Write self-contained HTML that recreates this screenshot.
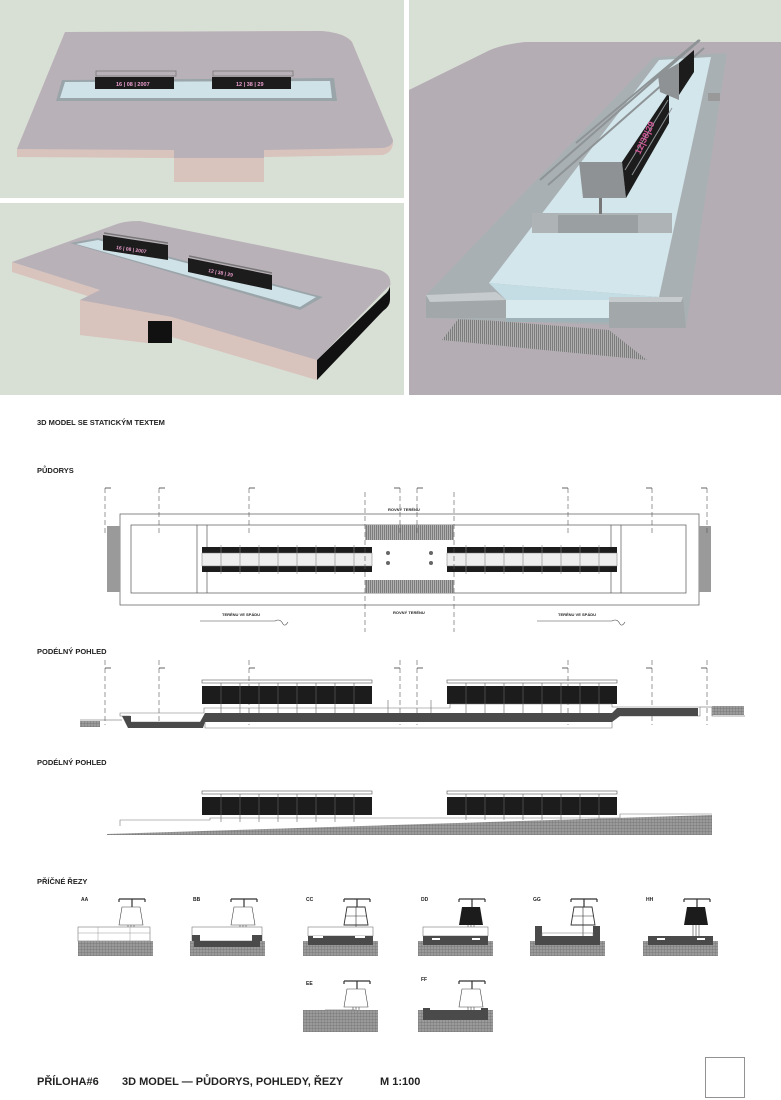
<!DOCTYPE html>
<html><head><meta charset="utf-8"><style>
html,body{margin:0;padding:0;background:#fff;}
svg{display:block;}
text{font-family:"Liberation Sans",sans-serif;font-weight:bold;fill:#222;}
</style></head><body>
<svg width="781" height="1100" viewBox="0 0 781 1100" xmlns="http://www.w3.org/2000/svg">
<defs>
<pattern id="hatch" width="3" height="3" patternUnits="userSpaceOnUse"><rect width="3" height="3" fill="#9a9a9a"/><path d="M0 0H3M0 0V3" stroke="#6f6f6f" stroke-width="0.7"/></pattern>
<pattern id="grate" width="2" height="4" patternUnits="userSpaceOnUse"><rect width="2" height="4" fill="#b0b0b0"/><rect width="1" height="4" fill="#7c7c7c"/></pattern>
<g id="sign">
 <path d="M41 4H67M41 4V7M67 4V7M54 4V12" stroke="#333" stroke-width="1.2" fill="none"/>
</g>
</defs>

<!-- top left panel -->
<rect x="0" y="0" width="404" height="198" fill="#d8e0d6"/>
<path d="M17 149 L65 32 L322 31 Q345 33 352 42 L393 142 Q393 152 383 155 L264 157 L264 182 L174 182 L174 158 L17 157 Z" fill="#d9c3bd"/>
<path d="M17 149 L65 32 L322 31 Q345 33 352 42 L393 140 Q393 146 383 148 L264 150 L174 150 L17 149 Z" fill="#b9b1b8"/>
<rect x="174" y="150" width="90" height="8" fill="#b9b1b8"/>
<polygon points="62,80 334,78 337,101 56,101" fill="#9aa5aa"/>
<polygon points="65,82 330,81 332,98 60,98" fill="#cfe2e8"/>
<rect x="95" y="77" width="79" height="12" fill="#1c1c1c"/>
<rect x="212" y="77" width="79" height="12" fill="#1c1c1c"/>
<rect x="96" y="71" width="80" height="5" fill="none" stroke="#777" stroke-width="0.8"/>
<rect x="213" y="71" width="80" height="5" fill="none" stroke="#777" stroke-width="0.8"/>
<text x="116" y="86" font-size="5.5" style="fill:#ec9fd0">16 | 08 | 2007</text>
<text x="236" y="86" font-size="5.5" style="fill:#ec9fd0">12 | 38 | 29</text>

<!-- bottom left panel -->
<rect x="0" y="203" width="404" height="192" fill="#d8e0d6"/>
<!-- pink/dark side faces -->
<polygon points="12,262 100,290 100,299 80,300 80,335 148,343 148,322 172,317 172,337 317,380 317,360" fill="#d9c3bd"/>
<polygon points="12,262 100,290 100,300 12,272" fill="#d9c3bd"/>
<polygon points="80,300 172,317 172,337 148,343 80,335" fill="#d9c3bd"/>
<polygon points="172,317 317,360 317,380 172,337" fill="#d9c3bd"/>
<rect x="148" y="321" width="24" height="22" fill="#111"/>
<path d="M317 360 L383 296 Q391 290 390 283 L390 300 Q390 306 383 311 L317 380 Z" fill="#111"/>
<!-- top face -->
<path d="M12 262 L117 224 Q125 221 140 221 L380 270 Q392 275 390 285 L317 360 L172 317 L80 300 L100 290 Z" fill="#b9b1b8"/>
<polygon points="70,243 98,238 323,297 300,310" fill="#9aa5aa"/>
<polygon points="76,244 98,240 316,297 300,307" fill="#cfe2e8"/>
<polygon points="103,235 168,245 168,260 103,250" fill="#1c1c1c"/>
<polygon points="188,258 272,275 272,290 188,272" fill="#1c1c1c"/>
<path d="M104 233 L168 243 M189 256 L272 273" stroke="#777" stroke-width="1.5"/>
<text x="116" y="249" font-size="5" transform="rotate(8 116 249)" style="fill:#ec9fd0">16 | 08 | 2007</text>
<text x="208" y="272" font-size="5" transform="rotate(11 208 272)" style="fill:#ec9fd0">12 | 38 | 29</text>

<!-- right panel -->
<rect x="409" y="0" width="372" height="395" fill="#b5adb4"/>
<path d="M409 0 H781 V42 L525 42 Q505 44 490 50 L409 90 Z" fill="#d8e0d6"/>
<polygon points="459,318 609,330 647,360 442,340" fill="url(#grate)"/>
<!-- frame -->
<polygon points="654,57 727,53 686,328 426,318 426,295" fill="#a9b0b3"/>
<polygon points="659,60 711,57 659,297 489,283" fill="#d2e6ec"/>
<polygon points="489,283 659,297 609,300 506,300" fill="#c4dde4"/>
<rect x="506" y="300" width="103" height="22" fill="#d8eaee"/>
<rect x="506" y="318" width="103" height="4" fill="#9fb2b8"/>
<polygon points="426,295 496,292 506,300 506,318 426,318" fill="#a2a8aa"/>
<polygon points="426,295 496,292 506,300 430,302" fill="#c6cbcd"/>
<polygon points="609,297 683,297 686,328 609,328" fill="#a2a8aa"/>
<polygon points="609,297 683,297 681,302 609,302" fill="#c6cbcd"/>
<rect x="708" y="93" width="12" height="8" fill="#999"/>
<!-- cross wall -->
<polygon points="532,213 672,213 672,233 532,233" fill="#aeb4b6"/>
<rect x="558" y="215" width="80" height="18" fill="#9aa0a2"/>
<!-- structures -->
<path d="M540 180 L700 40 M548 185 L704 48 M576 143 L699 40" stroke="#8e9396" stroke-width="2"/>
<polygon points="579,162 622,162 626,198 583,198" fill="#8e9294"/>
<rect x="599" y="198" width="3" height="16" fill="#777"/>
<polygon points="622,162 669,92 669,123 626,198" fill="#1c1c1c"/>
<polygon points="658,75 679,63 679,100 660,92" fill="#8e9294"/>
<polygon points="679,63 694,50 694,72 679,95" fill="#1c1c1c"/>
<path d="M625 170 L668 100 M632 175 L672 108" stroke="#8e9396" stroke-width="1"/>
<text x="640" y="155" font-size="9" transform="rotate(-65 640 155)" style="fill:#d35a9b">12|38|29</text>

<!-- headings -->
<text x="37" y="425" font-size="7.5">3D MODEL SE STATICKÝM TEXTEM</text>
<text x="37" y="473" font-size="7.5">PŮDORYS</text>
<text x="37" y="654" font-size="7.5">PODÉLNÝ POHLED</text>
<text x="37" y="765" font-size="7.5">PODÉLNÝ POHLED</text>
<text x="37" y="884" font-size="7.5">PŘÍČNÉ ŘEZY</text>

<!-- plan -->
<g stroke="#555" stroke-width="0.7" fill="none">
 <rect x="120" y="514" width="579" height="91"/>
 <rect x="131" y="525" width="555" height="68"/>
 <line x1="197" y1="525" x2="197" y2="593"/><line x1="207" y1="525" x2="207" y2="593"/>
 <line x1="611" y1="525" x2="611" y2="593"/><line x1="621" y1="525" x2="621" y2="593"/>
</g>
<rect x="107" y="526" width="13" height="66" fill="#9a9a9a"/>
<rect x="699" y="526" width="12" height="66" fill="#9a9a9a"/>
<rect x="365" y="525" width="89" height="15" fill="url(#grate)"/>
<rect x="365" y="580" width="89" height="13" fill="url(#grate)"/>
<g>
 <rect x="202" y="547" width="170" height="6" fill="#1c1c1c"/>
 <rect x="202" y="566" width="170" height="6" fill="#1c1c1c"/>
 <rect x="202" y="553" width="170" height="13" fill="#eee" stroke="#777" stroke-width="0.5"/>
 <rect x="447" y="547" width="170" height="6" fill="#1c1c1c"/>
 <rect x="447" y="566" width="170" height="6" fill="#1c1c1c"/>
 <rect x="447" y="553" width="170" height="13" fill="#eee" stroke="#777" stroke-width="0.5"/>
 <path d="M221 545V574M240 545V574M259 545V574M278 545V574M297 545V574M316 545V574M335 545V574M354 545V574M466 545V574M485 545V574M504 545V574M523 545V574M542 545V574M561 545V574M580 545V574M599 545V574" stroke="#888" stroke-width="0.6"/>
 <circle cx="388" cy="553" r="2" fill="#666"/><circle cx="388" cy="563" r="2" fill="#666"/>
 <circle cx="431" cy="553" r="2" fill="#666"/><circle cx="431" cy="563" r="2" fill="#666"/>
</g>
<g stroke="#555" stroke-width="0.6" stroke-dasharray="5,3" fill="none">
 <path d="M105 488V535M159 488V535M249 488V535M400 488V535M417 488V535M568 488V535M652 488V535M707 488V535"/>
 <path d="M365 492V632M454 492V632"/>
 <path d="M105 660V725M159 660V725M249 660V725M400 660V725M417 660V725M568 660V725M652 660V725M707 660V725"/>
</g>
<g stroke="#333" stroke-width="0.7" fill="none">
 <path d="M105 488H111M159 488H165M249 488H255M400 488H394M417 488H423M568 488H562M652 488H646M707 488H701"/>
 <path d="M105 668H111M159 668H165M249 668H255M400 668H394M417 668H423M568 668H562M652 668H646M707 668H701"/>
</g>
<g font-size="3.5">
 <text x="388" y="511" font-size="4">ROVNÝ TERÉNU</text>
 <text x="393" y="614" font-size="4">ROVNÝ TERÉNU</text>
 <text x="222" y="616" font-size="4">TERÉNU VE SPÁDU</text>
 <text x="558" y="616" font-size="4">TERÉNU VE SPÁDU</text>
</g>
<path d="M200 621H275 Q280 618 283 624 Q285 627 288 622" stroke="#444" stroke-width="0.6" fill="none"/>
<path d="M537 621H612 Q617 618 620 624 Q622 627 625 622" stroke="#444" stroke-width="0.6" fill="none"/>

<!-- elevation 1 -->
<rect x="202" y="680" width="170" height="3" fill="none" stroke="#555" stroke-width="0.6"/>
<rect x="447" y="680" width="170" height="3" fill="none" stroke="#555" stroke-width="0.6"/>
<rect x="202" y="686" width="170" height="18" fill="#1c1c1c"/>
<rect x="447" y="686" width="170" height="18" fill="#1c1c1c"/>
<path d="M221 683V713M240 683V713M259 683V713M278 683V713M297 683V713M316 683V713M335 683V713M354 683V713M466 683V713M485 683V713M504 683V713M523 683V713M542 683V713M561 683V713M580 683V713M599 683V713M388 700V713M431 700V713" stroke="#666" stroke-width="0.6"/>
<path d="M120 713 H204 V708 H450 V704 H612 V707 H700 V716 H612 V728 H205 V722 H130 V716 H120 Z" fill="none" stroke="#777" stroke-width="0.6"/>
<path d="M122 716 H131 V722 H200 L205 713 H612 L617 708 H698 V716 H620 L612 722 L205 722 L203 728 H128 Z" fill="#4a4a4a"/>
<path d="M80 720H122M700 707H712V716H745" stroke="#555" stroke-width="0.6" fill="none"/>
<rect x="80" y="721" width="20" height="6" fill="url(#hatch)"/>
<rect x="712" y="706" width="32" height="9" fill="url(#hatch)"/>

<!-- elevation 2 -->
<rect x="202" y="791" width="170" height="3" fill="none" stroke="#555" stroke-width="0.6"/>
<rect x="447" y="791" width="170" height="3" fill="none" stroke="#555" stroke-width="0.6"/>
<rect x="202" y="797" width="170" height="18" fill="#1c1c1c"/>
<rect x="447" y="797" width="170" height="18" fill="#1c1c1c"/>
<path d="M221 794V822M240 794V822M259 794V822M278 794V822M297 794V822M316 794V822M335 794V822M354 794V822M466 794V820M485 794V820M504 794V820M523 794V820M542 794V820M561 794V820M580 794V820M599 794V820" stroke="#666" stroke-width="0.6"/>
<path d="M120 826 V820 H210 V818 H620 V814 H712" fill="none" stroke="#777" stroke-width="0.6"/>
<polygon points="107,834 712,815 712,835 107,835" fill="url(#hatch)"/>

<!-- cross sections -->
<g font-size="5">
 <text x="81" y="901">AA</text><text x="193" y="901">BB</text><text x="306" y="901">CC</text>
 <text x="421" y="901">DD</text><text x="533" y="901">GG</text><text x="646" y="901">HH</text>
 <text x="306" y="985">EE</text><text x="421" y="981">FF</text>
</g>
<g transform="translate(78,895)">
 <use href="#sign"/><polygon points="44,12 62,12 65,30 41,30" fill="#fff" stroke="#444" stroke-width="0.6"/>
 <path d="M50 30V42M53 30V42M56 30V42" stroke="#444" stroke-width="0.6"/>
 <rect x="0" y="32" width="72" height="14" fill="#fff" stroke="#777" stroke-width="0.6"/>
 <path d="M20 32V46M52 32V46M0 38H72" stroke="#999" stroke-width="0.5"/>
 <rect x="0" y="46" width="75" height="15" fill="url(#hatch)"/>
</g>
<g transform="translate(190,895)">
 <use href="#sign"/><polygon points="44,12 62,12 65,30 41,30" fill="#fff" stroke="#444" stroke-width="0.6"/>
 <path d="M50 30V42M53 30V42M56 30V42" stroke="#444" stroke-width="0.6"/>
 <rect x="2" y="32" width="70" height="14" fill="#fff" stroke="#777" stroke-width="0.6"/>
 <path d="M2 40H10V46H62V40H72V52H2Z" fill="#4a4a4a"/>
 <rect x="0" y="46" width="75" height="15" fill="url(#hatch)"/><rect x="4" y="46" width="66" height="6" fill="#4a4a4a"/>
</g>
<g transform="translate(303,895)">
 <use href="#sign"/><polygon points="44,12 62,12 65,30 41,30" fill="#fff" stroke="#333" stroke-width="0.9"/>
 <path d="M42 21H64M53 12V42" stroke="#333" stroke-width="0.6"/>
 <rect x="5" y="32" width="65" height="9" fill="#fff" stroke="#777" stroke-width="0.6"/>
 <rect x="0" y="46" width="75" height="15" fill="url(#hatch)"/><path d="M5 41H70V50H5Z" fill="#4a4a4a"/>
 <rect x="10" y="41" width="10" height="2" fill="#fff"/><rect x="52" y="41" width="10" height="2" fill="#fff"/>
</g>
<g transform="translate(418,895)">
 <use href="#sign"/><polygon points="44,12 62,12 65,30 41,30" fill="#1c1c1c"/>
 <path d="M50 30V42M53 30V42M56 30V42" stroke="#444" stroke-width="0.6"/>
 <rect x="5" y="32" width="65" height="9" fill="#fff" stroke="#777" stroke-width="0.6"/>
 <rect x="0" y="46" width="75" height="15" fill="url(#hatch)"/><path d="M5 41H70V50H5Z" fill="#4a4a4a"/>
 <rect x="14" y="43" width="8" height="2" fill="#fff"/><rect x="54" y="43" width="8" height="2" fill="#fff"/>
</g>
<g transform="translate(530,895)">
 <use href="#sign"/><polygon points="44,12 62,12 65,30 41,30" fill="#fff" stroke="#333" stroke-width="0.9"/>
 <path d="M42 21H64M53 12V42" stroke="#333" stroke-width="0.6"/>
 <rect x="0" y="46" width="75" height="15" fill="url(#hatch)"/>
 <path d="M5 31H12V41H63V31H70V50H5Z" fill="#4a4a4a"/>
 <path d="M12 41V38H63V41" stroke="#777" stroke-width="0.5" fill="none"/>
</g>
<g transform="translate(643,895)">
 <use href="#sign"/><polygon points="44,12 62,12 65,30 41,30" fill="#1c1c1c"/>
 <path d="M50 30V42M53 30V42M56 30V42" stroke="#444" stroke-width="0.6"/>
 <rect x="0" y="46" width="75" height="15" fill="url(#hatch)"/><path d="M5 41H70V50H5Z" fill="#4a4a4a"/>
 <rect x="14" y="43" width="8" height="2" fill="#fff"/><rect x="54" y="43" width="8" height="2" fill="#fff"/>
</g>
<g transform="translate(303,977)">
 <use href="#sign"/><polygon points="44,12 62,12 65,30 41,30" fill="#fff" stroke="#444" stroke-width="0.6"/>
 <path d="M50 30V33M53 30V33M56 30V33M22 33H52" stroke="#444" stroke-width="0.6"/>
 <rect x="0" y="33" width="75" height="22" fill="url(#hatch)"/>
</g>
<g transform="translate(418,977)">
 <use href="#sign"/><polygon points="44,12 62,12 65,30 41,30" fill="#fff" stroke="#444" stroke-width="0.6"/>
 <path d="M50 30V33M53 30V33M56 30V33" stroke="#444" stroke-width="0.6"/>
 <rect x="0" y="33" width="75" height="22" fill="url(#hatch)"/>
 <path d="M5 31H12V33H63V31H70V43H5Z" fill="#4a4a4a"/>
</g>

<!-- footer -->
<text x="37" y="1085" font-size="11">PŘÍLOHA#6</text>
<text x="122" y="1085" font-size="11">3D MODEL — PŮDORYS, POHLEDY, ŘEZY</text>
<text x="380" y="1085" font-size="11">M 1:100</text>
<rect x="705.5" y="1057.5" width="39" height="40" fill="none" stroke="#777" stroke-width="0.8"/>
</svg>
</body></html>
